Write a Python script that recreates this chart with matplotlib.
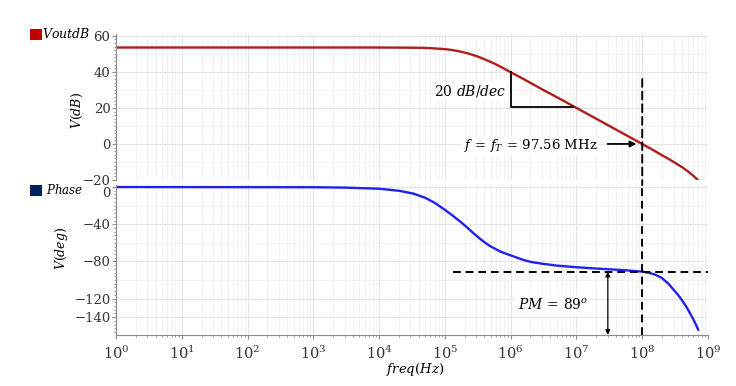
import numpy as np
import matplotlib
matplotlib.use("Agg")
import matplotlib.pyplot as plt
from matplotlib.ticker import LogLocator, MultipleLocator, FixedLocator, NullFormatter
from matplotlib.patches import Rectangle, ConnectionPatch

# ---- data ----
mag_freq = [1, 1e2, 1e3, 1e4, 2e4, 3e4, 5e4, 7e4, 1e5, 1.3e5, 1.7e5, 2.2e5, 3e5, 4e5,
            5.5e5, 7.5e5, 1e6, 1.5e6, 2e6, 3e6, 5e6, 1e7, 2e7, 5e7, 1e8, 1.5e8, 2e8,
            2.5e8, 3e8, 4e8, 5e8, 6e8, 7e8]
mag_db = [53.5, 53.5, 53.5, 53.5, 53.45, 53.4, 53.3, 53.0, 52.6, 52.1, 51.3, 50.3, 48.8,
          47.0, 44.8, 42.3, 39.8, 36.4, 33.9, 30.3, 26.0, 20.0, 14.0, 6.0, 0.0, -3.6,
          -6.3, -8.2, -10.0, -12.8, -15.3, -17.7, -20.0]

ph_freq = [1, 1e3, 3e3, 1e4, 2e4, 3.3e4, 5e4, 7e4, 1e5, 1.3e5, 1.7e5, 2.1e5, 2.7e5,
           3.4e5, 4.2e5, 5e5, 7e5, 1e6, 1.5e6, 2e6, 3e6, 5e6, 1e7, 2e7, 5e7, 1e8,
           1.3e8, 1.6e8, 2e8, 2.5e8, 3e8, 3.5e8, 4e8, 4.7e8, 5.3e8, 6e8, 6.6e8, 7.1e8]
ph_deg = [0, -0.2, -0.6, -1.8, -4, -7, -11.5, -17, -24.5, -30.5, -37, -42.5, -49.5,
          -55.5, -60.5, -64, -69.5, -73.5, -78, -80.5, -82.5, -84.5, -86.3, -87.7, -89.3,
          -91, -92.5, -94.5, -98, -104, -110.5, -116, -121.5, -129, -135.5, -142.5,
          -148.5, -153.5]

mag_yticks = [60, 40, 20, 0, -20]
ph_yticks = [0, -40, -80, -120, -140]
xticks = [10.0**k for k in range(0, 10)]

f_T = 1e8          # crossover frequency marker
pm_level = -91     # phase at crossover

plt.rcParams['font.family'] = ['DejaVu Serif']
plt.rcParams['mathtext.fontset'] = 'dejavuserif'

W, H = 736, 386
fig = plt.figure(figsize=(W / 100, H / 100), dpi=100)

def fx(px):
    return px / W

def fy(py):
    return 1 - py / H

left, right = 116, 708
ax1 = fig.add_axes([fx(left), fy(180), fx(right - left), (180 - 34) / H])
ax2 = fig.add_axes([fx(left), fy(335), fx(right - left), (335 - 185) / H])

grid_c = '#e4e4e4'
grid_minor_c = '#f0f0f0'
spine_c = '#8c8c8c'
tick_c = '#333333'
dash = (0, (4, 2.5))

for ax in (ax1, ax2):
    ax.set_xscale('log')
    ax.set_xlim(1, 1e9)
    ax.xaxis.set_major_locator(FixedLocator(xticks))
    ax.xaxis.set_minor_locator(LogLocator(base=10, subs=np.arange(2, 10), numticks=20))
    ax.xaxis.set_minor_formatter(NullFormatter())
    ax.grid(True, which='major', color=grid_c, lw=0.8)
    ax.grid(True, which='minor', axis='x', color=grid_minor_c, lw=0.6)
    ax.set_axisbelow(True)
    for s in ('top', 'right'):
        ax.spines[s].set_visible(False)
    ax.spines['left'].set_color(spine_c)
    ax.spines['bottom'].set_color(spine_c)
    ax.tick_params(axis='both', which='major', length=3, color=spine_c,
                   labelsize=9.5, labelcolor=tick_c, pad=1)
    ax.tick_params(axis='both', which='minor', length=1.5, color=spine_c)

# --- magnitude panel ---
ax1.plot(mag_freq, mag_db, color='#b01c1c', lw=1.7)
ax1.set_ylim(-20, 61)
ax1.yaxis.set_major_locator(FixedLocator(mag_yticks))
ax1.yaxis.set_minor_locator(MultipleLocator(2))
for v in (50, 30, 10, -10):
    ax1.axhline(v, color=grid_minor_c, lw=0.6, zorder=0)
ax1.spines['bottom'].set_visible(False)
ax1.tick_params(axis='x', which='both', bottom=False, labelbottom=False)
ax1.set_yticklabels([f'{v:d}'.replace('-', '\u2212') for v in mag_yticks])

# slope triangle
ax1.plot([1e6, 1e6, 9e6], [40, 20.4, 20.4], color='black', lw=1.3)
ax1.text(8.6e5, 29.5, r'$20\ dB/dec$', ha='right', va='center', fontsize=10,
         bbox=dict(facecolor='white', edgecolor='none', pad=1))
# fT annotation
ax1.text(2.0e6, -1, r'$f\,=\,f_T\,=\,97.56\ \mathrm{MHz}$', ha='center', va='center',
         fontsize=9.5, bbox=dict(facecolor='white', edgecolor='none', pad=1))
ax1.annotate('', xy=(9.0e7, 0), xytext=(2.7e7, 0),
             arrowprops=dict(arrowstyle='-|>', color='black', lw=1.3, mutation_scale=9))

# --- phase panel ---
ax2.plot(ph_freq, ph_deg, color='#2020f0', lw=1.7)
ax2.set_ylim(-159.2, 2.2)
ax2.yaxis.set_major_locator(FixedLocator(ph_yticks))
ax2.yaxis.set_minor_locator(MultipleLocator(4))
for v in (-20, -60, -100):
    ax2.axhline(v, color=grid_minor_c, lw=0.6, zorder=0)
ax2.set_yticklabels([f'{v:d}'.replace('-', '\u2212') for v in ph_yticks])
ax2.get_yticklabels()[0].set_verticalalignment('top')
ax2.set_xticklabels([f'$10^{{{k}}}$' for k in range(0, 10)], fontsize=10.5)
ax2.tick_params(axis='x', which='major', pad=4)

ax2.plot([1.35e5, 1e9], [pm_level, pm_level], color='black', lw=1.4, ls=dash)
ax2.axvline(f_T, color='black', lw=1.4, ls=dash)
con = ConnectionPatch(xyA=(f_T, 36), coordsA=ax1.transData,
                      xyB=(f_T, 2.2), coordsB=ax2.transData,
                      color='black', lw=1.4, ls=dash)
fig.add_artist(con)
ax2.annotate('', xy=(3e7, pm_level), xytext=(3e7, -159.2),
             arrowprops=dict(arrowstyle='<|-|>', color='black', lw=0.9, mutation_scale=7,
                             shrinkA=0, shrinkB=0))
ax2.text(4.4e6, -127, r'$PM\,=\,89^o$', ha='center', va='center', fontsize=10,
         bbox=dict(facecolor='white', edgecolor='none', pad=2))

# axis labels
fig.text(fx(77), fy(110), r'$V(dB)$', rotation=90, ha='center', va='center', fontsize=9)
fig.text(fx(62), fy(248), r'$V(deg)$', rotation=90, ha='center', va='center', fontsize=9)
fig.text(fx(415), fy(370), r'$freq(Hz)$', ha='center', va='center', fontsize=9.5)

# legend squares
fig.add_artist(Rectangle((fx(30), fy(40)), fx(11.5), 11.5 / H, transform=fig.transFigure,
                         facecolor='#c00000', edgecolor='none'))
fig.text(fx(42), fy(34), r'$VoutdB$', ha='left', va='center', fontsize=9)
fig.add_artist(Rectangle((fx(30), fy(196)), fx(11.5), 11.5 / H, transform=fig.transFigure,
                         facecolor='#002060', edgecolor='none'))
fig.text(fx(46), fy(190.5), r'$Phase$', ha='left', va='center', fontsize=8.5)

fig.savefig('out.png', dpi=100)
